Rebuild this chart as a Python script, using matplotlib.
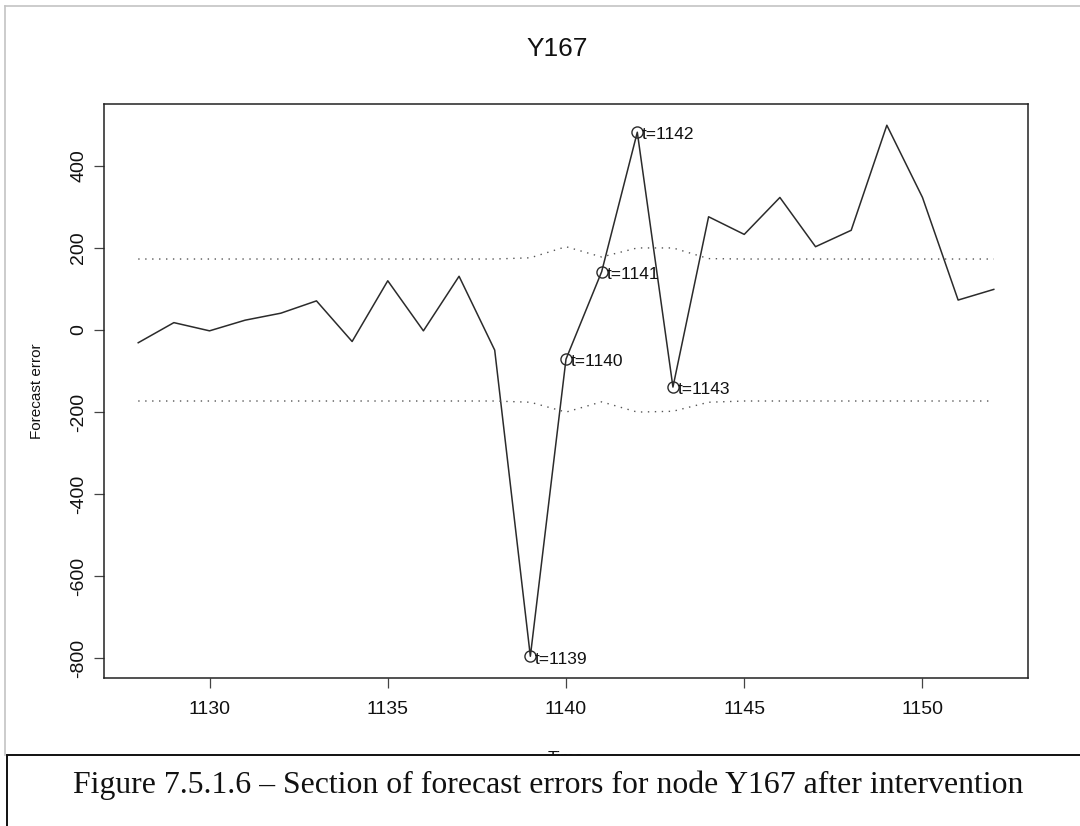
import matplotlib
matplotlib.use("Agg")
import matplotlib.pyplot as plt
from matplotlib.lines import Line2D
from matplotlib.patches import Rectangle

plt.rcParams['font.family'] = ['Liberation Sans', 'DejaVu Sans']

# forecast errors for node Y167, t = 1128 .. 1152
times = list(range(1128, 1153))
errors = [-31, 18, -2, 24, 41, 71, -28, 120, -2, 131, -49, -795, -71, 142,
          482, -139, 276, 233, 323, 203, 243, 499, 323, 73, 99]

# control limits around zero
upper_limit = [173, 173, 173, 173, 173, 173, 173, 173, 173, 173, 173, 176, 203,
               178, 200, 200, 174, 173, 173, 173, 173, 173, 173, 173, 173]
lower_limit = [-173, -173, -173, -173, -173, -173, -173, -173, -173, -173, -173,
               -176, -200, -175, -200, -198, -176, -173, -173, -173, -173, -173,
               -173, -173, -173]

# points flagged after the intervention
flagged = [1139, 1140, 1141, 1142, 1143]

y_ticks = [-800, -600, -400, -200, 0, 200, 400]
x_ticks = [1130, 1135, 1140, 1145, 1150]

W, H = 1080, 826
fig = plt.figure(figsize=(W / 100, H / 100), dpi=100)
ax = fig.add_axes([104 / W, 1 - 677.5 / H, (1028 - 104) / W, (677.5 - 104) / H])

ax.plot(times, errors, color='#2b2b2b', lw=1.1)
ax.plot(times, upper_limit, color='#555555', lw=1.0, linestyle=(0, (1, 4)))
ax.plot(times, lower_limit, color='#555555', lw=1.0, linestyle=(0, (1, 4)))

for t in flagged:
    v = errors[times.index(t)]
    ax.plot([t], [v], marker='o', ms=8, mfc='none', mec='#2b2b2b', mew=1.0)
    ax.annotate('t=%d' % t, xy=(t, v), xytext=(3.5, -2), textcoords='offset points',
                ha='left', va='center', fontsize=12.5, color='#111111')

# R-style 4% padding
span_x = times[-1] - times[0]
ax.set_xlim(times[0] - 0.04 * span_x, times[-1] + 0.04 * span_x)
span_y = max(errors) - min(errors)
ax.set_ylim(min(errors) - 0.04 * span_y, max(errors) + 0.04 * span_y)

ax.set_xticks(x_ticks)
ax.set_yticks(y_ticks)
ax.set_xticklabels([str(v) for v in x_ticks])
ax.set_yticklabels([str(v) for v in y_ticks], rotation=90, va='center')
ax.tick_params(axis='both', direction='out', length=7.2, width=0.9, color='#444444',
               labelsize=14, labelcolor='#111111')
ax.tick_params(axis='x', pad=10)
ax.tick_params(axis='y', pad=5)
for s in ax.spines.values():
    s.set_linewidth(1.1)
    s.set_color('#222222')

fig.text(557 / W, 1 - 49 / H, 'Y167', ha='center', va='center', fontsize=19, color='#111111')
fig.text(37 / W, 1 - 391 / H, 'Forecast error', rotation=90, ha='center', va='center',
         fontsize=11, color='#111111')
# x label sits mostly under the caption box
fig.text(566 / W, 1 - 751 / H, 'Time', ha='center', va='top', fontsize=12, color='#111111')

# page frame (top and left edges)
fig.add_artist(Line2D([5 / W, 1.0], [1 - 5.5 / H, 1 - 5.5 / H], color='#c4c4c4', lw=1.2))
fig.add_artist(Line2D([5 / W, 5 / W], [1 - 5.5 / H, 1 - 755 / H], color='#c4c4c4', lw=1.2))

# caption box covering the bottom of the figure
fig.add_artist(Rectangle((7 / W, -0.05), 1.2, 0.05 + (826 - 755) / H, facecolor='white',
                         edgecolor='#111111', lw=1.4, zorder=5))
fig.text(73 / W, 1 - 793 / H,
         'Figure 7.5.1.6 \u2013 Section of forecast errors for node Y167 after intervention',
         ha='left', va='baseline', fontsize=22.9, family=['Liberation Serif', 'DejaVu Serif'],
         color='#111111', zorder=6)

fig.savefig('out.png', dpi=100, facecolor='white')
